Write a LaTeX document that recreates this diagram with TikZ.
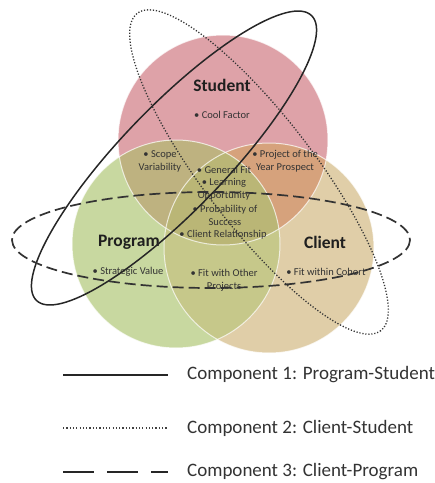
\documentclass[tikz,border=0pt]{standalone}
\usepackage{fontspec}
\setmainfont{Carlito}
\usetikzlibrary{positioning}

\definecolor{stupink}{RGB}{222,162,168}
\definecolor{proggreen}{RGB}{200,216,160}
\definecolor{clienttan}{RGB}{224,206,168}
\definecolor{spolive}{RGB}{190,178,128}
\definecolor{scorange}{RGB}{214,162,124}
\definecolor{pcolive}{RGB}{198,200,138}
\definecolor{spcolive}{RGB}{186,182,118}

% the three discs
\newcommand{\studisk}{(223,140) circle [radius=105]}
\newcommand{\progdisk}{(176,244) circle [radius=104]}
\newcommand{\clientdisk}{(269,248) circle [radius=105]}

\begin{document}
\begin{tikzpicture}[
  x=1pt, y=-1pt,
  ring/.style={draw=white, line width=1pt, draw opacity=0.7},
  lbl/.style={font=\bfseries\fontsize{17.5}{20}\selectfont, text=black!88},
  itm/.style={font=\fontsize{10.5}{13}\selectfont, text=black!80,
              align=center, inner sep=0pt},
  comp1/.style={line width=1.5pt, black!85},
  comp2/.style={line width=1.3pt, black!80, dash pattern=on 1.2pt off 1.8pt},
  comp3/.style={line width=1.7pt, black!80, dash pattern=on 11pt off 5pt},
  legtxt/.style={font=\fontsize{19}{22}\selectfont, text=black!80, inner sep=0pt}
]
  \useasboundingbox (0,0) rectangle (435,483);

  % Discs
  \fill[stupink] \studisk;
  \fill[proggreen] \progdisk;
  \fill[clienttan] \clientdisk;

  % Overlaps
  \begin{scope}
    \clip \studisk;
    \fill[spolive] \progdisk;
    \fill[scorange] \clientdisk;
  \end{scope}
  \begin{scope}
    \clip \progdisk;
    \fill[pcolive] \clientdisk;
  \end{scope}
  \begin{scope}
    \clip \studisk;
    \clip \progdisk;
    \fill[spcolive] \clientdisk;
  \end{scope}

  \draw[ring] \studisk;
  \draw[ring] \progdisk;
  \draw[ring] \clientdisk;

  % Set names
  \node[lbl] (student) at (222,85) {Student};
  \node[lbl] (program) at (129,242) {Program};
  \node[lbl] (client) at (325,242) {Client};

  % Items
  \node[itm] (coolfac) at (222,115) {\textbullet\ Cool Factor};
  \node[itm] (scope) at (160,161.5) {\textbullet\ Scope\\Variability};
  \node[itm] (potyear) at (285,161.5) {\textbullet\ Project of the\\Year Prospect};
  \node[itm] (genfit) at (224,170) {\textbullet\ General Fit};
  \node[itm] (learn) at (224,189.5) {\textbullet\ Learning\\Opportunity};
  \node[itm] (probsucc) at (225,215.5) {\textbullet\ Probability of\\Success};
  \node[itm] (clirel) at (223,235) {\textbullet\ Client Relationship};
  \node[itm] (fitother) at (224,280.5) {\textbullet\ Fit with Other\\Projects};
  \node[itm] (stratval) at (128,272) {\textbullet\ Strategic Value};
  \node[itm] (fitcohort) at (326,272) {\textbullet\ Fit within Cohort};

  % Component loops
  \draw[comp1, rotate around={46:(174,158)}] (174,158) ellipse [x radius=198, y radius=52];
  \draw[comp2, rotate around={-52.5:(259,172)}] (259,172) ellipse [x radius=200, y radius=55];
  \draw[comp3] (211,240) ellipse [x radius=199, y radius=48];

  % Legend
  \coordinate (c1a) at (63,375);
  \coordinate (c1b) at (168,375);
  \coordinate (c2a) at (63,428);
  \coordinate (c2b) at (168,428);
  \coordinate (c3a) at (63,472);
  \coordinate (c3b) at (168,472);

  \draw[line width=2.7pt, black!85] (c1a) -- (c1b);
  \draw[line width=1.3pt, black!75, dash pattern=on 1.2pt off 2.1pt] (c2a) -- (c2b);
  \draw[line width=2.7pt, black!85, dash pattern=on 31pt off 13pt] (c3a) -- (c3b);

  \node[legtxt, right=19pt of c1b] (leg1) {Component 1: Program-Student};
  \node[legtxt, right=19pt of c2b] (leg2) {Component 2: Client-Student};
  \node[legtxt, right=19pt of c3b] (leg3) {Component 3: Client-Program};
\end{tikzpicture}
\end{document}
